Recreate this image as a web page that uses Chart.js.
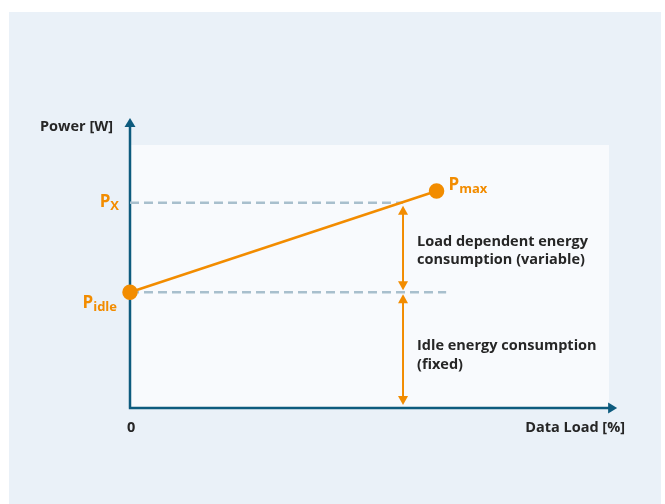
<!DOCTYPE html>
<html>
<head>
<meta charset="utf-8">
<script src="https://cdn.jsdelivr.net/npm/chart.js@4.4.0/dist/chart.umd.min.js"></script>
<style>
  html, body { margin: 0; padding: 0; background: #fff; }
  canvas { display: block; }
</style>
</head>
<body>
<canvas id="chart" width="665" height="504"></canvas>
<script>
// Power vs data load (schematic, axis units 0-100)
const loadValues = [0, 64];
const powerValues = [44, 82.5];
const pointLabels = [['P', 'idle'], ['P', 'max']];

// reference levels
const pxLevel = 78;
const pxLineLoad = [0, 57];
const idleLineLoad = [0, 66];
const markerLoad = 57;

const axisTitles = { x: 'Data Load [%]', y: 'Power [W]', origin: '0' };
const bandLabels = [
  ['Load dependent energy', 'consumption (variable)'],
  ['Idle energy consumption', '(fixed)']
];

const ORANGE = '#F28C00';
const AXIS = '#0D5B7E';
const DASH = '#A8BFCD';
const TEXT = '#262626';
const FONT = '"Open Sans", "Noto Sans", sans-serif';

function arrowHead(ctx, x, y, dir, w, l, color) {
  ctx.fillStyle = color;
  ctx.beginPath();
  if (dir === 'up') { ctx.moveTo(x, y); ctx.lineTo(x - w / 2, y + l); ctx.lineTo(x + w / 2, y + l); }
  if (dir === 'down') { ctx.moveTo(x, y); ctx.lineTo(x - w / 2, y - l); ctx.lineTo(x + w / 2, y - l); }
  if (dir === 'right') { ctx.moveTo(x, y); ctx.lineTo(x - l, y - w / 2); ctx.lineTo(x - l, y + w / 2); }
  ctx.closePath();
  ctx.fill();
}

function doubleArrow(ctx, x, y1, y2) {
  ctx.strokeStyle = ORANGE;
  ctx.lineWidth = 2;
  ctx.beginPath();
  ctx.moveTo(x, y1 + 6);
  ctx.lineTo(x, y2 - 6);
  ctx.stroke();
  arrowHead(ctx, x, y1, 'up', 10, 9, ORANGE);
  arrowHead(ctx, x, y2, 'down', 10, 9, ORANGE);
}

function subLabel(ctx, main, sub, x, y, align) {
  ctx.fillStyle = ORANGE;
  ctx.textAlign = 'left';
  ctx.font = 'bold 17px ' + FONT;
  const w1 = ctx.measureText(main).width;
  ctx.font = 'bold 13px ' + FONT;
  const w2 = ctx.measureText(sub).width;
  const left = align === 'right' ? x - w1 - w2 : x;
  ctx.font = 'bold 17px ' + FONT;
  ctx.fillText(main, left, y);
  ctx.font = 'bold 13px ' + FONT;
  ctx.fillText(sub, left + w1, y + 3);
}

const schematic = {
  id: 'schematic',
  beforeDraw(chart) {
    const { ctx, chartArea: a } = chart;
    ctx.save();
    ctx.fillStyle = '#EAF1F8';
    ctx.fillRect(9, 12, 652, 492);
    ctx.fillStyle = '#F8FAFD';
    ctx.fillRect(a.left, a.top, a.right - a.left, a.bottom - a.top);
    ctx.restore();
  },
  beforeDatasetsDraw(chart) {
    const { ctx, scales: { x, y } } = chart;
    const x0 = x.getPixelForValue(0), y0 = y.getPixelForValue(0);
    const yTop = y.getPixelForValue(110.3), xEnd = x.getPixelForValue(101.7);
    ctx.save();
    ctx.strokeStyle = AXIS;
    ctx.lineWidth = 2.5;
    ctx.beginPath();
    ctx.moveTo(x0, y0);
    ctx.lineTo(x0, yTop + 7);
    ctx.moveTo(x0 - 1.2, y0);
    ctx.lineTo(xEnd - 7, y0);
    ctx.stroke();
    arrowHead(ctx, x0, yTop, 'up', 11, 9, AXIS);
    arrowHead(ctx, xEnd, y0, 'right', 11, 9, AXIS);
    ctx.restore();
  },
  afterDatasetsDraw(chart) {
    const { ctx, scales: { x, y } } = chart;
    const x0 = x.getPixelForValue(0), y0 = y.getPixelForValue(0);
    const mx = x.getPixelForValue(markerLoad);
    const yPx = y.getPixelForValue(pxLevel);
    const yIdle = y.getPixelForValue(powerValues[0]);
    ctx.save();
    doubleArrow(ctx, mx, yPx + 3, yIdle - 2);
    doubleArrow(ctx, mx, yIdle + 2, y0 - 3);

    // orange P labels
    subLabel(ctx, 'P', 'X', x0 - 11, yPx + 4, 'right');
    subLabel(ctx, pointLabels[0][0], pointLabels[0][1], x0 - 13, yIdle + 16, 'right');
    subLabel(ctx, pointLabels[1][0], pointLabels[1][1],
      x.getPixelForValue(loadValues[1]) + 12, y.getPixelForValue(powerValues[1]) - 1, 'left');

    // axis titles
    ctx.fillStyle = TEXT;
    ctx.font = 'bold 14.5px ' + FONT;
    ctx.textAlign = 'right';
    ctx.fillText(axisTitles.y, x0 - 17, 131);
    ctx.fillText(axisTitles.x, 625, y0 + 24);
    ctx.textAlign = 'left';
    ctx.fillText(axisTitles.origin, x0 - 3, y0 + 24);

    // band descriptions
    const tx = mx + 14;
    ctx.fillText(bandLabels[0][0], tx, yPx + 43);
    ctx.fillText(bandLabels[0][1], tx, yPx + 61);
    ctx.fillText(bandLabels[1][0], tx, yIdle + 58);
    ctx.fillText(bandLabels[1][1], tx, yIdle + 77);
    ctx.restore();
  }
};

new Chart(document.getElementById('chart'), {
  type: 'scatter',
  data: {
    datasets: [
      {
        label: 'Power',
        data: loadValues.map((v, i) => ({ x: v, y: powerValues[i] })),
        showLine: true,
        borderColor: ORANGE,
        backgroundColor: ORANGE,
        borderWidth: 2.5,
        pointRadius: 6.5,
        pointHoverRadius: 6.5,
        clip: false
      },
      {
        label: 'Px level',
        data: pxLineLoad.map(v => ({ x: v, y: pxLevel })),
        showLine: true,
        borderColor: DASH,
        borderWidth: 2.5,
        borderDash: [9, 5],
        pointRadius: 0
      },
      {
        label: 'Idle level',
        data: idleLineLoad.map(v => ({ x: v, y: powerValues[0] })),
        showLine: true,
        borderColor: DASH,
        borderWidth: 2.5,
        borderDash: [9, 5],
        pointRadius: 0
      }
    ]
  },
  options: {
    responsive: false,
    animation: false,
    layout: { padding: { left: 130, top: 145, right: 56, bottom: 96 } },
    scales: {
      x: { type: 'linear', min: 0, max: 100, display: false },
      y: { type: 'linear', min: 0, max: 100, display: false }
    },
    plugins: {
      legend: { display: false },
      tooltip: { enabled: false }
    }
  },
  plugins: [schematic]
});
</script>
</body>
</html>
